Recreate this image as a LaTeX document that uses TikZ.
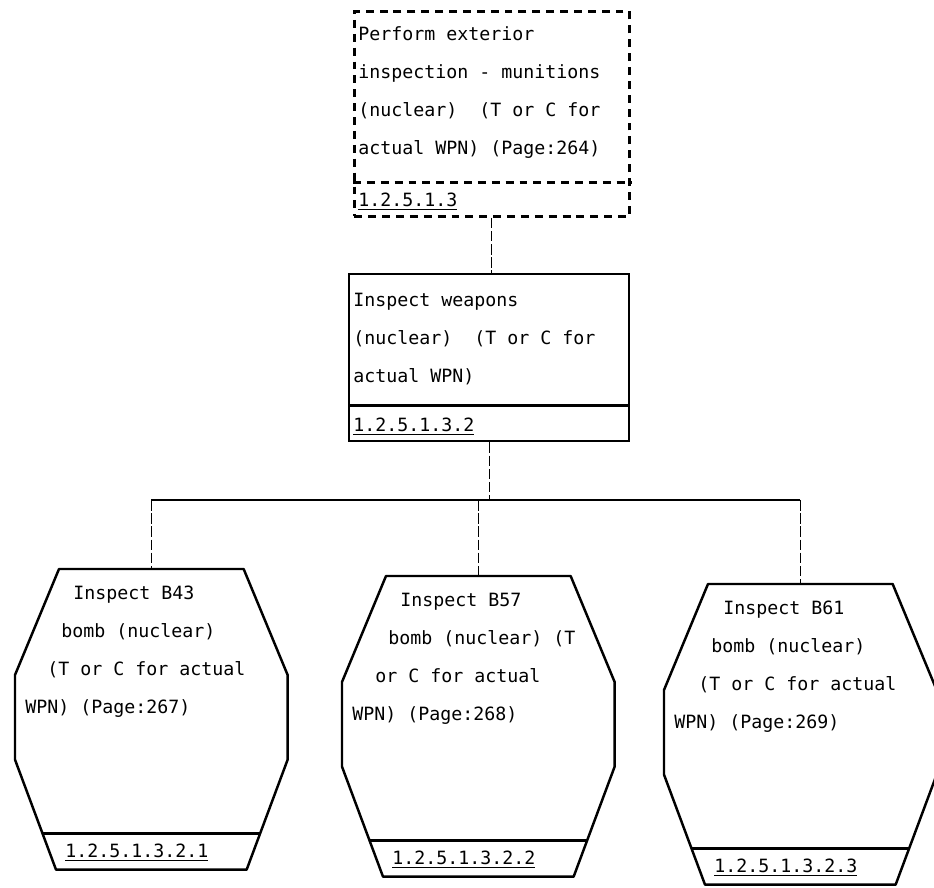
\documentclass[tikz,border=0pt]{standalone}
\usepackage{fontspec}
\setmonofont{DejaVu Sans Mono}
\usepackage{tikz}
\usetikzlibrary{positioning,calc}

\begin{document}
\begin{tikzpicture}[
    x=0.02cm, y=-0.02cm,
    font=\ttfamily\fontsize{10.4}{21.6}\selectfont,
    taskbox/.style={rectangle, draw, line width=1.4pt, inner sep=0pt,
      anchor=north west},
    dashbox/.style={line width=1.6pt, dash pattern=on 4.5pt off 3.4pt},
    bombbox/.style={rectangle, inner sep=0pt, anchor=north west,
      minimum width=5.44cm, minimum height=6cm},
    outline/.style={line width=1.4pt, line join=round},
    lbl/.style={inner sep=0pt, anchor=north west, align=left},
    num/.style={inner sep=0pt, anchor=west},
    link/.style={line width=0.7pt, dash pattern=on 6pt off 1.5pt},
    bus/.style={line width=1.3pt}
  ]
  \useasboundingbox (0,0) rectangle (934,888);

  % top task (dashed)
  \node[taskbox, dashbox, minimum width=5.5cm, minimum height=4.1cm] (perf) at (353,10) {};
  \draw[dashbox] ($(perf.south west)+(0,-35)$) -- ($(perf.south east)+(0,-35)$);
  \node[lbl] (perf-t) at ($(perf.north west)+(5,16)$)
    {Perform exterior\\inspection - munitions\\(nuclear)\ \ (T or C for\\actual WPN) (Page:264)};
  \node[num] (perf-n) at ($(perf.south west)+(5,-16)$) {\underline{1.2.5.1.3}};

  % middle task
  \node[taskbox, minimum width=5.6cm, minimum height=3.34cm] (insp) at (348,273) {};
  \draw[outline] ($(insp.south west)+(0,-37)$) -- ($(insp.south east)+(0,-37)$);
  \node[lbl] (insp-t) at ($(insp.north west)+(5,20)$)
    {Inspect weapons\\(nuclear)\ \ (T or C for\\actual WPN)};
  \node[num] (insp-n) at ($(insp.south west)+(5,-16)$) {\underline{1.2.5.1.3.2}};

  % bombs
  \node[bombbox] (b43) at (15,569) {};
  \node[bombbox] (b57) at (342,576) {};
  \node[bombbox] (b61) at (664,584) {};

  \foreach \n in {b43,b57,b61}{
    \draw[outline] ($(\n.north west)+(44,0)$) -- ($(\n.north east)+(-44,0)$)
      -- ($(\n.north east)+(0,106)$) -- ($(\n.south east)+(0,-110)$)
      -- ($(\n.south east)+(-41,0)$) -- ($(\n.south west)+(41,0)$)
      -- ($(\n.south west)+(0,-110)$) -- ($(\n.north west)+(0,106)$) -- cycle;
    \draw[outline] ($(\n.south west)+(27.6,-36)$) -- ($(\n.south east)+(-27.6,-36)$);
  }

  \node[lbl] (b43-t) at ($(b43.north west)+(10,17)$)
    {\hspace*{0.96cm}Inspect B43\\\hspace*{0.72cm}bomb (nuclear)\\\hspace*{0.44cm}(T or C for actual\\WPN) (Page:267)};
  \node[lbl] (b57-t) at ($(b57.north west)+(10,17)$)
    {\hspace*{0.96cm}Inspect B57\\\hspace*{0.72cm}bomb (nuclear) (T\\\hspace*{0.46cm}or C for actual\\WPN) (Page:268)};
  \node[lbl] (b61-t) at ($(b61.north west)+(10,17)$)
    {\hspace*{0.98cm}Inspect B61\\\hspace*{0.74cm}bomb (nuclear)\\\hspace*{0.48cm}(T or C for actual\\WPN) (Page:269)};

  \node[num] (b43-n) at ($(b43.south west)+(50,-17)$) {\underline{1.2.5.1.3.2.1}};
  \node[num] (b57-n) at ($(b57.south west)+(50,-17)$) {\underline{1.2.5.1.3.2.2}};
  \node[num] (b61-n) at ($(b61.south west)+(50,-17)$) {\underline{1.2.5.1.3.2.3}};

  % connectors
  \coordinate (split) at (0,500);
  \draw[link] (perf.south) -- (perf.south |- insp.north);
  \draw[link] (insp.south) -- (insp.south |- split);
  \draw[bus] (b43.north |- split) -- (b61.north |- split);
  \foreach \n in {b43,b57,b61}
    \draw[link] (\n.north |- split) -- (\n.north);
\end{tikzpicture}
\end{document}
